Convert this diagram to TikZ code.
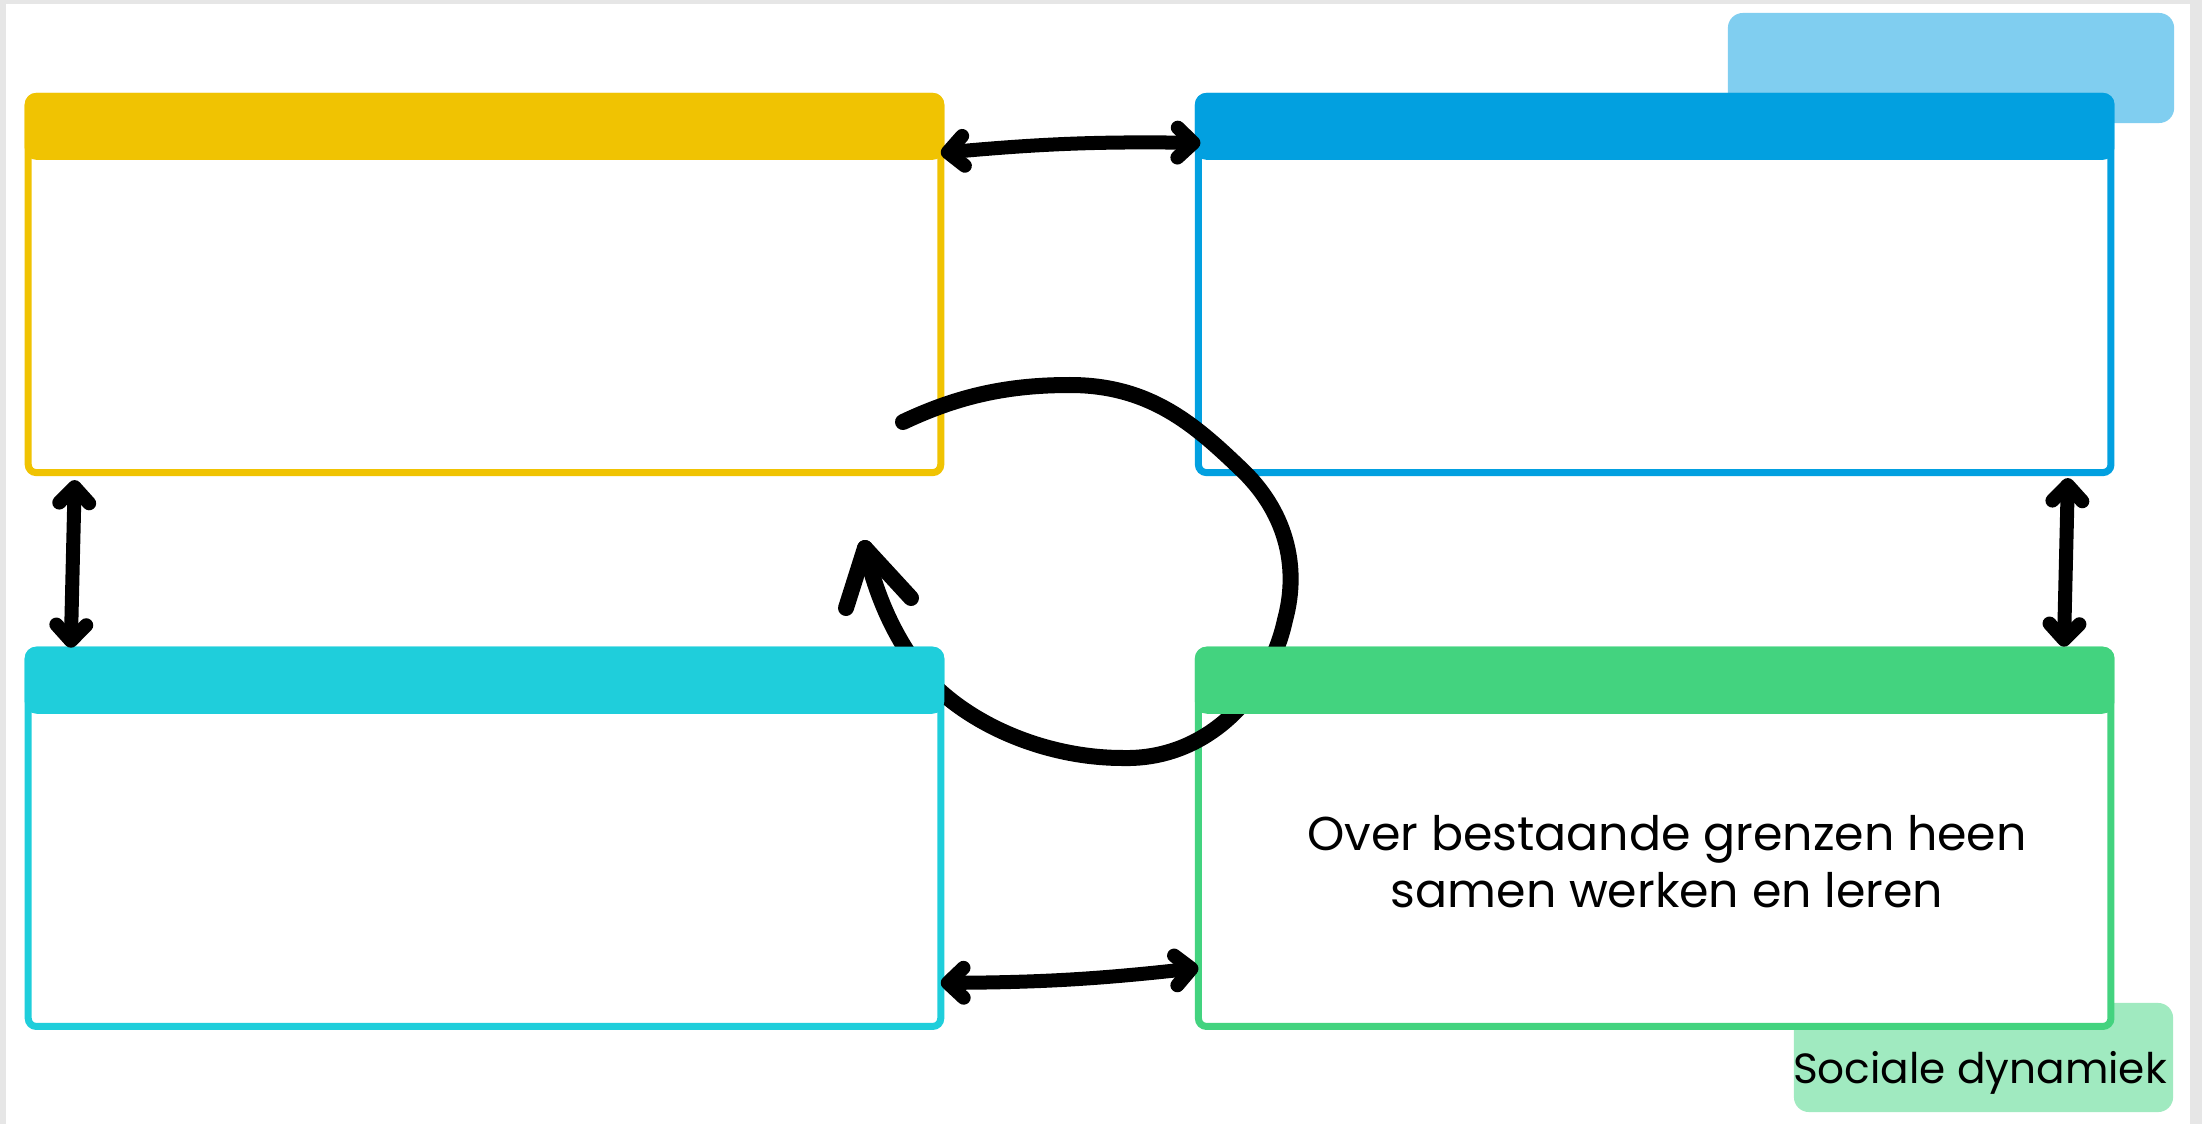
\documentclass[tikz,border=0pt]{standalone}
\usepackage{fontspec}
\setmainfont{Poppins}
\usetikzlibrary{positioning,arrows.meta}

\definecolor{geelkleur}{HTML}{F0C302}
\definecolor{blauwkleur}{HTML}{02A0E0}
\definecolor{cyaankleur}{HTML}{1FCEDB}
\definecolor{groenkleur}{HTML}{43D37F}
\definecolor{tabblauw}{HTML}{80CEF0}
\definecolor{tabgroen}{HTML}{A0EAC0}
\definecolor{randgrijs}{HTML}{E6E6E6}

\begin{document}
\begin{tikzpicture}
[
  x=0.01cm, y=-0.01cm,
  kader/.style={rectangle, draw=#1, fill=white, line width=0.07cm, rounded corners=0.08cm,
    minimum width=9.12cm, minimum height=3.76cm, inner sep=0pt, outer sep=0pt},
  kop/.style={fill=#1, rounded corners=0.12cm},
  tab/.style={rectangle, fill=#1, rounded corners=0.15cm, inner sep=0pt, outer sep=0pt},
  pijl/.style={line width=0.14cm, line cap=round, >={Straight Barb[round,length=4.5pt,width=8.5pt]}, <->},
  kring/.style={line width=0.16cm, line cap=round, line join=round},
  on grid
]
 \useasboundingbox (0,0) rectangle (2202,1124);
 \fill[randgrijs] (0,0) rectangle (2202,1124);
 \fill[white] (6,4) rectangle (2190,1124);

 % tabs achter de kaders
 \node[tab=tabblauw, minimum width=4.46cm, minimum height=1.1cm] (tabb) at (1951,68) {};
 \node[tab=tabgroen, minimum width=3.79cm, minimum height=1.09cm] (tabg) at (1983.5,1057.5) {};

 % de vier kaders
 \node[kader=geelkleur] (geel) at (484.5,284.5) {};
 \node[kader=blauwkleur] (blauw) [right=11.695cm of geel] {};
 \node[kader=cyaankleur] (cyaan) [below=5.535cm of geel] {};
 \node[kader=groenkleur] (groen) [right=11.695cm of cyaan] {};

 \fill[kop=geelkleur] ([xshift=-0.035cm,yshift=0.035cm]geel.north west) rectangle ([xshift=0.035cm,yshift=-0.635cm]geel.north east);
 \fill[kop=blauwkleur] ([xshift=-0.035cm,yshift=0.035cm]blauw.north west) rectangle ([xshift=0.035cm,yshift=-0.635cm]blauw.north east);

 % kringloop
 \draw[kring] (903,422) .. controls (960,395) and (1010,385) .. (1070,385)
   .. controls (1150,385) and (1195,425) .. (1240,468)
   .. controls (1285,510) and (1300,565) .. (1285,620)
   .. controls (1270,690) and (1210,760) .. (1123,758)
   .. controls (1040,758) and (960,720) .. (920,670)
   .. controls (890,630) and (875,590) .. (865,548);
 \draw[kring] (846,608) -- (865,548) -- (911,598);

 \fill[kop=cyaankleur] ([xshift=-0.035cm,yshift=0.035cm]cyaan.north west) rectangle ([xshift=0.035cm,yshift=-0.635cm]cyaan.north east);
 \fill[kop=groenkleur] ([xshift=-0.035cm,yshift=0.035cm]groen.north west) rectangle ([xshift=0.035cm,yshift=-0.635cm]groen.north east);

 \node[font=\fontsize{13.5}{16.2}\selectfont, align=center, inner sep=0pt] (tekst) at (1667,862) {Over bestaande grenzen heen\\samen werken en leren};
 \node[font=\fontsize{12}{14.4}\selectfont, anchor=base, inner sep=0pt] (label) at (1980,1083) {Sociale dynamiek};

 \draw[pijl] ([yshift=-0.565cm]geel.north east) to[bend left=3] ([xshift=0.02cm,yshift=-0.465cm]blauw.north west);
 \draw[pijl] ([yshift=-3.325cm]cyaan.north east) to[bend right=3] ([yshift=-3.175cm]groen.north west);
 \draw[pijl] ([xshift=0.465cm,yshift=-0.075cm]geel.south west) -- ([xshift=0.425cm,yshift=0.025cm]cyaan.north west);
 \draw[pijl] ([xshift=-0.43cm,yshift=-0.055cm]blauw.south east) -- ([xshift=-0.47cm,yshift=0.035cm]groen.north east);
\end{tikzpicture}
\end{document}
